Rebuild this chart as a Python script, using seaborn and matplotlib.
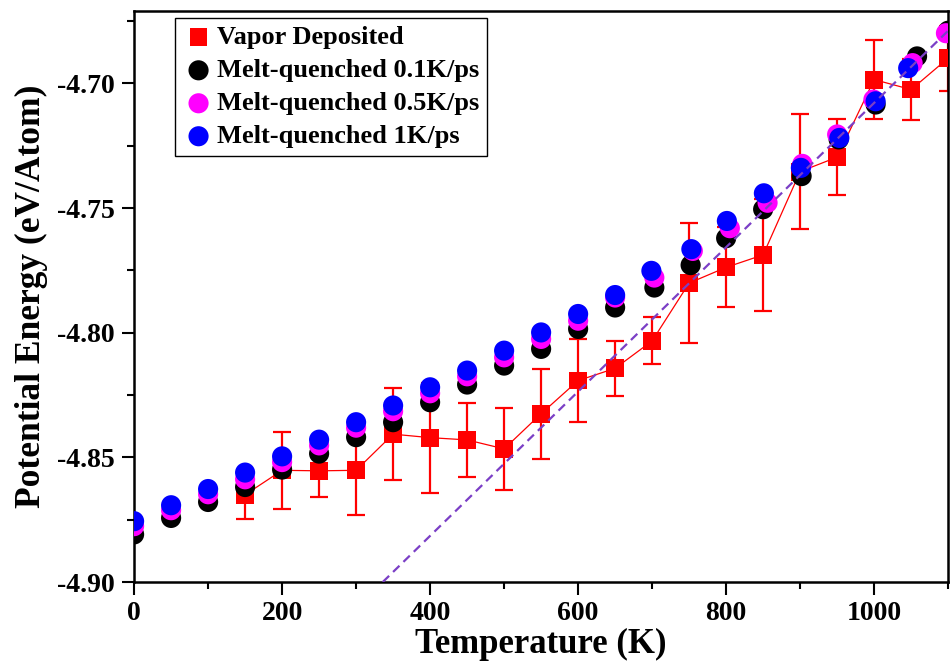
import numpy as np
import pandas as pd
import matplotlib
matplotlib.use("Agg")
import matplotlib.pyplot as plt
from matplotlib.ticker import MultipleLocator, FormatStrFormatter
import seaborn as sns

# vapor deposited (with error bars)
vd_T = [150, 200, 250, 300, 350, 400, 450, 500, 550, 600, 650, 700,
        750, 800, 850, 900, 950, 1000, 1050, 1100]
vd_E = [-4.8650, -4.8552, -4.8554, -4.8552, -4.8407, -4.8421, -4.8430, -4.8466,
        -4.8325, -4.8192, -4.8143, -4.8033, -4.7801, -4.7738, -4.7688, -4.7354,
        -4.7296, -4.6985, -4.7025, -4.6899]
vd_err = [0.0096, 0.0155, 0.0104, 0.0180, 0.0185, 0.0220, 0.0148, 0.0163,
          0.0180, 0.0166, 0.0110, 0.0094, 0.0240, 0.0160, 0.0225, 0.0230,
          0.0152, 0.0157, 0.0122, 0.0130]

# melt-quenched runs
base_T = [0, 50, 100, 150, 200, 250, 300, 350, 400, 450, 500, 550, 600, 650]
mq01_T = base_T + [703, 752, 800, 850, 902, 952, 1002, 1058, 1100]
mq01_E = [-4.8809, -4.8743, -4.8679, -4.8619, -4.8549, -4.8485, -4.8419, -4.8359,
          -4.8279, -4.8208, -4.8132, -4.8065, -4.7985, -4.7899, -4.7819, -4.7729,
          -4.7621, -4.7505, -4.7372, -4.7225, -4.7085, -4.6892, -4.6789]
mq05_T = base_T + [703, 755, 805, 856, 903, 950, 999, 1052, 1097]
mq05_E = [-4.8776, -4.8712, -4.8648, -4.8588, -4.8519, -4.8452, -4.8381, -4.8315,
          -4.8243, -4.8175, -4.8099, -4.8025, -4.7952, -4.7859, -4.7779, -4.7672,
          -4.7581, -4.7479, -4.7323, -4.7205, -4.7065, -4.6919, -4.6799]
mq1_T = base_T + [699, 753, 801, 851, 901, 953, 1002, 1046]
mq1_E = [-4.8756, -4.8692, -4.8627, -4.8561, -4.8496, -4.8429, -4.8359, -4.8292,
         -4.8219, -4.8152, -4.8072, -4.7999, -4.7925, -4.7849, -4.7752, -4.7665,
         -4.7552, -4.7441, -4.7339, -4.7219, -4.7072, -4.6939]

# linear fit (dashed)
fit_slope = 2.894e-4
fit_intercept = -4.99724

sns.set_theme(style="ticks")
plt.rcParams["font.family"] = ["Liberation Serif", "DejaVu Serif"]
plt.rcParams["font.weight"] = "bold"
plt.rcParams["axes.unicode_minus"] = False
plt.rcParams["text.color"] = "black"
plt.rcParams["axes.labelcolor"] = "black"

fig = plt.figure(figsize=(9.51, 6.68), dpi=100)
ax = fig.add_axes([0.141, 0.1287, 0.856, 0.8548])

# vapor deposited: line, error bars, squares
ax.plot(vd_T, vd_E, color="red", lw=0.9, zorder=2)
ax.errorbar(vd_T, vd_E, yerr=vd_err, fmt="none", ecolor="red",
            elinewidth=1.6, capsize=6.5, capthick=1.6, zorder=2)
sns.scatterplot(x=vd_T, y=vd_E, marker="s", color="red", s=165,
                edgecolor="none", label="Vapor Deposited", ax=ax, zorder=3)

runs = [("Melt-quenched 0.1K/ps", mq01_T, mq01_E, "black"),
        ("Melt-quenched 0.5K/ps", mq05_T, mq05_E, "#ff00ff"),
        ("Melt-quenched 1K/ps", mq1_T, mq1_E, "blue")]
for i, (name, t, e, c) in enumerate(runs):
    df = pd.DataFrame({"T": t, "E": e})
    sns.scatterplot(data=df, x="T", y="E", color=c, s=210, marker="o",
                    edgecolor="none", label=name, ax=ax, zorder=4 + i)

ax.axline((0, fit_intercept), slope=fit_slope, color="#7b3fc6", lw=1.6,
          dashes=(4, 2.5), zorder=8)

ax.set_xlim(0, 1100)
ax.set_ylim(-4.90, -4.671)
ax.xaxis.set_major_locator(MultipleLocator(200))
ax.xaxis.set_minor_locator(MultipleLocator(100))
ax.yaxis.set_major_locator(MultipleLocator(0.05))
ax.yaxis.set_minor_locator(MultipleLocator(0.025))
ax.yaxis.set_major_formatter(FormatStrFormatter("%.2f"))
ax.tick_params(which="major", direction="out", length=9, width=1.5,
               labelsize=20, colors="black", pad=5)
ax.tick_params(which="minor", direction="out", length=5, width=1.5, colors="black")
for sp in ax.spines.values():
    sp.set_linewidth(1.8)
    sp.set_color("black")
    sp.set_visible(True)

ax.set_xlabel("Temperature (K)", fontsize=25, fontweight="bold", labelpad=1)
ax.set_ylabel("Potential Energy (eV/Atom)", fontsize=25.5, fontweight="bold", labelpad=6)

leg = ax.legend(loc="upper left", bbox_to_anchor=(0.05, 0.988), borderaxespad=0,
                fontsize=19, frameon=True, fancybox=False, edgecolor="black",
                framealpha=1, handletextpad=0.1, labelspacing=0.36,
                borderpad=0.3, handlelength=1.2, scatterpoints=1)
leg.get_frame().set_linewidth(1.0)
for t in leg.get_texts():
    t.set_fontweight("bold")
    t.set_color("black")

fig.savefig("out.png", dpi=100)
